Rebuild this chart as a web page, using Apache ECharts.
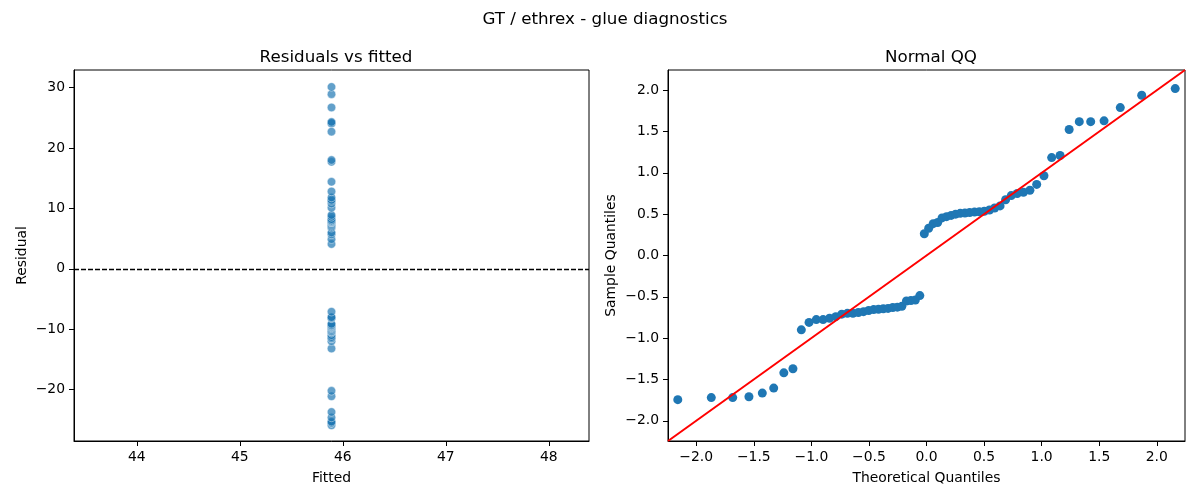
<!DOCTYPE html>
<html>
<head>
<meta charset="utf-8">
<script src="https://cdn.jsdelivr.net/npm/echarts@6.0.0/dist/echarts.min.js"></script>
<style>
  html, body { margin: 0; padding: 0; background: #fff; }
  #main { width: 1200px; height: 500px; }
</style>
</head>
<body>
<div id="main"></div>
<script>
// fitted value (the model predicts a single constant)
var fittedValue = 45.89;

// residuals (sorted)
var residuals = [
  -25.9, -25.5, -25.5, -25.3, -24.6, -23.7, -21.1, -20.2,
  -13.2, -12.0, -11.5, -11.5, -11.3, -11.0, -10.6, -10.4,
  -10.4, -10.3, -10.1, -9.9, -9.8, -9.7, -9.6, -9.5,
  -9.4, -9.3, -9.1, -8.2, -8.1, -8.0, -7.1,
  4.1, 4.9, 5.7, 6.0, 6.8, 7.0, 7.2, 7.4, 7.6, 7.7, 7.7,
  7.8, 7.9, 8.0, 8.2, 8.6, 8.9, 10.1, 10.8, 11.2, 11.4,
  11.8, 12.8, 14.4, 17.7, 18.0, 22.7, 24.1, 24.1, 24.3,
  26.7, 28.9, 30.1
];

// normal QQ: theoretical quantiles (x) and sample quantiles (y)
var qqTheoretical = [
  -2.160, -1.869, -1.683, -1.542, -1.426, -1.327, -1.239, -1.160,
  -1.087, -1.020, -0.957, -0.898, -0.842, -0.788, -0.736, -0.687,
  -0.639, -0.592, -0.547, -0.502, -0.459, -0.417, -0.375, -0.334,
  -0.293, -0.253, -0.214, -0.174, -0.135, -0.097, -0.058, -0.019,
  0.019, 0.058, 0.097, 0.135, 0.174, 0.214, 0.253, 0.293,
  0.334, 0.375, 0.417, 0.459, 0.502, 0.547, 0.592, 0.639,
  0.687, 0.736, 0.788, 0.842, 0.898, 0.957, 1.020, 1.087,
  1.160, 1.239, 1.327, 1.426, 1.542, 1.683, 1.869, 2.160
];
var qqSample = [
  -1.745, -1.72, -1.72, -1.71, -1.665, -1.605, -1.42, -1.37,
  -0.90, -0.81, -0.776, -0.776, -0.76, -0.74, -0.71, -0.70,
  -0.70, -0.69, -0.68, -0.665, -0.655, -0.65, -0.645, -0.64,
  -0.63, -0.625, -0.615, -0.55, -0.545, -0.54, -0.485, 0.263,
  0.33, 0.385, 0.40, 0.455, 0.47, 0.485, 0.50, 0.51,
  0.515, 0.52, 0.525, 0.53, 0.535, 0.55, 0.575, 0.60,
  0.675, 0.725, 0.75, 0.765, 0.79, 0.86, 0.965, 1.185,
  1.21, 1.525, 1.62, 1.62, 1.63, 1.79, 1.94, 2.02
];

// tick labels
var fittedTicks = [44, 45, 46, 47, 48];
var residualTicks = [-20, -10, 0, 10, 20, 30];
var qqTicks = [-2.0, -1.5, -1.0, -0.5, 0.0, 0.5, 1.0, 1.5, 2.0];

// axis limits
var leftX = [43.39, 48.39];
var leftY = [-28.5, 32.9];
var qqLim = [-2.245, 2.245];

var font = 'DejaVu Sans';

function minus(s) { return String(s).replace('-', '\u2212'); }

function axisBase(ticks, fmt) {
  return {
    axisLine: { show: true, onZero: false, lineStyle: { color: '#000', width: 1 } },
    axisTick: { show: true, length: 5, inside: false, customValues: ticks, lineStyle: { color: '#000', width: 1 } },
    axisLabel: { customValues: ticks, margin: 9, color: '#000', fontFamily: font, fontSize: 13.9, formatter: fmt },
    splitLine: { show: false },
    nameTextStyle: { color: '#000', fontFamily: font, fontSize: 13.9 }
  };
}

var resPairs = residuals.map(function (r) { return [fittedValue, r]; });
var qqPairs = qqTheoretical.map(function (t, i) { return [t, qqSample[i]]; });

var chart = echarts.init(document.getElementById('main'), null, { renderer: 'canvas' });

var option = {
  animation: false,
  backgroundColor: '#fff',
  title: [
    { text: 'GT / ethrex - glue diagnostics', left: 600, top: 6, textAlign: 'center',
      textStyle: { fontFamily: font, fontSize: 16.7, fontWeight: 'normal', color: '#000' } },
    { text: 'Residuals vs fitted', left: 331, top: 44, textAlign: 'center',
      textStyle: { fontFamily: font, fontSize: 16.7, fontWeight: 'normal', color: '#000' } },
    { text: 'Normal QQ', left: 926, top: 44, textAlign: 'center',
      textStyle: { fontFamily: font, fontSize: 16.7, fontWeight: 'normal', color: '#000' } }
  ],
  grid: [
    { left: 74, right: 611, top: 70, bottom: 59, show: true, borderColor: '#000', borderWidth: 1, backgroundColor: '#fff' },
    { left: 668, right: 15, top: 70, bottom: 59, show: true, borderColor: '#000', borderWidth: 1, backgroundColor: '#fff' }
  ],
  xAxis: [
    Object.assign(axisBase(fittedTicks, function (v) { return minus(v); }), {
      type: 'value', gridIndex: 0, min: leftX[0], max: leftX[1],
      name: 'Fitted', nameLocation: 'middle', nameGap: 30
    }),
    Object.assign(axisBase(qqTicks, function (v) { return minus(v.toFixed(1)); }), {
      type: 'value', gridIndex: 1, min: qqLim[0], max: qqLim[1],
      name: 'Theoretical Quantiles', nameLocation: 'middle', nameGap: 30
    })
  ],
  yAxis: [
    Object.assign(axisBase(residualTicks, function (v) { return minus(v); }), {
      type: 'value', gridIndex: 0, min: leftY[0], max: leftY[1],
      name: 'Residual', nameLocation: 'middle', nameGap: 45
    }),
    Object.assign(axisBase(qqTicks, function (v) { return minus(v.toFixed(1)); }), {
      type: 'value', gridIndex: 1, min: qqLim[0], max: qqLim[1],
      name: 'Sample Quantiles', nameLocation: 'middle', nameGap: 50
    })
  ],
  series: [
    {
      type: 'scatter', xAxisIndex: 0, yAxisIndex: 0,
      data: resPairs, symbolSize: 8.5,
      itemStyle: { color: '#1f77b4', opacity: 0.7, borderColor: '#fff', borderWidth: 0.6 },
      markLine: {
        silent: true, symbol: 'none', animation: false,
        label: { show: false },
        lineStyle: { color: '#000', width: 1.3, type: [5, 2] },
        data: [{ yAxis: 0 }]
      }
    },
    {
      type: 'scatter', xAxisIndex: 1, yAxisIndex: 1,
      data: qqPairs, symbolSize: 9,
      itemStyle: { color: '#1f77b4', opacity: 1 }
    },
    {
      type: 'line', xAxisIndex: 1, yAxisIndex: 1,
      data: [[qqLim[0], qqLim[0]], [qqLim[1], qqLim[1]]],
      symbol: 'none', silent: true, z: 3,
      lineStyle: { color: '#ff0000', width: 2 }
    }
  ]
};

chart.setOption(option);
</script>
</body>
</html>
